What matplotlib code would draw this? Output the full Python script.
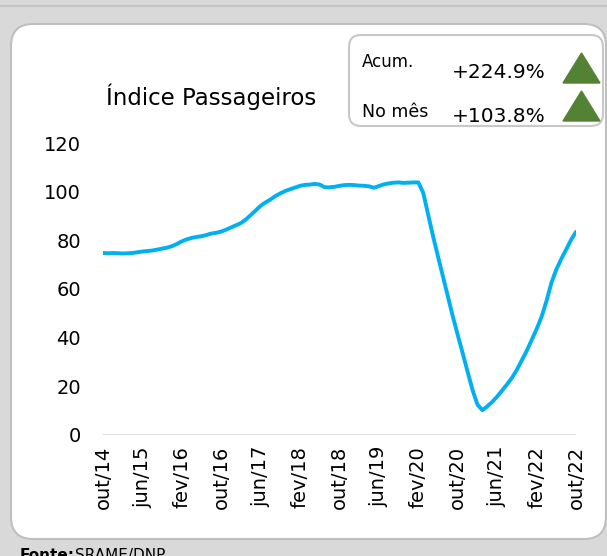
import matplotlib
matplotlib.use("Agg")
import matplotlib.pyplot as plt
from matplotlib.patches import FancyBboxPatch, Polygon
from matplotlib.transforms import IdentityTransform

# monthly index, out/14 .. out/22
months = list(range(97))
indice = [
    74.8, 74.7, 74.8, 74.7, 74.6, 74.7, 74.8, 75.1, 75.4, 75.6,
    75.8, 76.2, 76.6, 77.0, 77.6, 78.5, 79.6, 80.4, 81.0, 81.4,
    81.7, 82.2, 82.8, 83.1, 83.6, 84.4, 85.3, 86.2, 87.1, 88.6,
    90.4, 92.3, 94.2, 95.6, 96.8, 98.2, 99.3, 100.3, 101.0, 101.7,
    102.4, 102.8, 102.9, 103.2, 102.9, 101.8, 101.8, 102.0, 102.4, 102.7,
    102.8, 102.7, 102.5, 102.4, 102.2, 101.6, 102.3, 103.0, 103.4, 103.7,
    103.8, 103.6, 103.7, 103.8, 103.8, 99.5, 90.5, 81.6, 73.3, 65.1,
    56.9, 48.7, 41.1, 33.6, 26.0, 18.5, 12.5, 10.2, 11.8, 13.6,
    15.8, 18.3, 20.8, 23.5, 26.8, 30.7, 34.6, 39.0, 43.5, 48.5,
    55.0, 62.5, 68.0, 72.3, 76.2, 80.2, 83.5,
]
tick_pos = [0, 8, 16, 24, 32, 40, 48, 56, 64, 72, 80, 88, 96]
tick_labels = ["out/14", "jun/15", "fev/16", "out/16", "jun/17", "fev/18", "out/18",
               "jun/19", "fev/20", "out/20", "jun/21", "fev/22", "out/22"]
y_ticks = [0, 20, 40, 60, 80, 100, 120]

titulo = "Índice Passageiros"
acum_txt, acum_val = "Acum.", "+224.9%"
mes_txt, mes_val = "No mês", "+103.8%"

plt.rcParams["font.family"] = ["DejaVu Sans"]

W, H = 607, 556
fig = plt.figure(figsize=(W / 100, H / 100), dpi=100)
fig.patch.set_facecolor("#d9d9d9")
px = IdentityTransform()

# top strip line
fig.add_artist(plt.Line2D([0, W], [H - 6, H - 6], transform=px, color="#c4c4c4", lw=1.5))

# white panel
panel = FancyBboxPatch((11, 17), 595, 515, boxstyle="round,pad=0,rounding_size=22",
                       transform=px, facecolor="white", edgecolor="#bfbfbf", lw=1.5, zorder=-2)
fig.add_artist(panel)

# box with the variations
box = FancyBboxPatch((349, 430), 254, 91, boxstyle="round,pad=0,rounding_size=12",
                     transform=px, facecolor="white", edgecolor="#c8c8c8", lw=1.5, zorder=-1)
fig.add_artist(box)

verde = "#548235"
fig.add_artist(Polygon([(563, 473), (600, 473), (581.5, 503)], closed=True,
                       transform=px, color=verde))
fig.add_artist(Polygon([(563, 435), (600, 435), (581.5, 465)], closed=True,
                       transform=px, color=verde))

fig.text(362 / W, 489 / H, acum_txt, fontsize=12, va="baseline", ha="left")
fig.text(452 / W, 478 / H, acum_val, fontsize=14.5, va="baseline", ha="left")
fig.text(362 / W, 439 / H, mes_txt, fontsize=12.5, va="baseline", ha="left")
fig.text(452 / W, 434 / H, mes_val, fontsize=14.5, va="baseline", ha="left")

fig.text(106 / W, 451 / H, titulo, fontsize=16.5, va="baseline", ha="left")

# source note, cut by the bottom edge as in the original
fig.text(20 / W, 8 / H, "Fonte:", fontsize=11, fontweight="bold", va="top", ha="left")
fig.text(75 / W, 8 / H, "SRAME/DNP", fontsize=11, va="top", ha="left")

ax = fig.add_axes([103 / W, 121 / H, 473 / W, 292 / H])
ax.set_zorder(5)
ax.set_facecolor("none")
ax.axhline(0, color="#d9d9d9", lw=1.2, zorder=1)
ax.plot(months, indice, color="#00b0f0", lw=2.8, solid_capstyle="round", zorder=3)

ax.set_xlim(0, 96)
ax.set_ylim(0, 120)
ax.set_xticks(tick_pos)
ax.set_xticklabels(tick_labels, rotation=90, fontsize=14)
ax.set_yticks(y_ticks)
ax.set_yticklabels([str(v) for v in y_ticks], fontsize=14)
ax.tick_params(axis="x", length=0, pad=8)
ax.tick_params(axis="y", length=0, pad=16)
for s in ax.spines.values():
    s.set_visible(False)

fig.savefig("out.png", dpi=100, facecolor=fig.get_facecolor())
